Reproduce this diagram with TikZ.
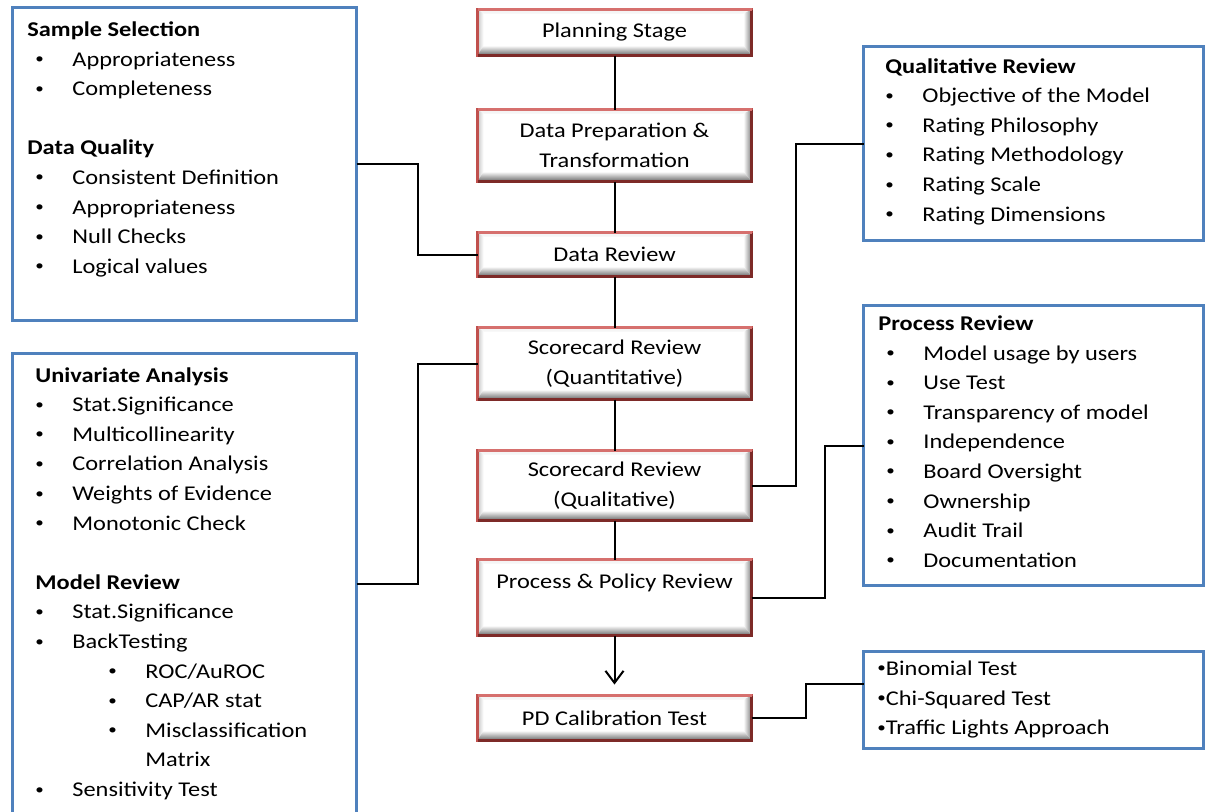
\documentclass[tikz,border=0pt]{standalone}
\usepackage{fontspec}
\setmainfont{Carlito}[FakeStretch=1.16]
\usetikzlibrary{arrows.meta}

\definecolor{stageRed}{RGB}{192,80,77}
\definecolor{stageDark}{RGB}{125,42,40}
\definecolor{stageTop}{RGB}{214,112,110}
\definecolor{boxBlue}{RGB}{79,129,189}

\newcommand\bbx{path picture bounding box}
\newcommand\bdot{\raisebox{0.12em}{\scalebox{0.7}{\textbullet}}}
\newcommand\bul[2][0pt]{\hspace*{#1}\makebox[18.5pt][l]{\bdot}#2\strut}

\begin{document}
\begin{tikzpicture}[x=0.5pt,y=-0.5pt,
  stage/.style={draw=stageRed, line width=1.5pt, fill=white, outer sep=0pt, inner sep=0pt,
    minimum width=137pt, align=center, font=\fontsize{10.5}{14.8}\selectfont,
    path picture={
      \fill[black!4] (\bbx.north west) -- (\bbx.north east) -- ([shift={(-4pt,-2pt)}]\bbx.north east) -- ([shift={(3pt,-2pt)}]\bbx.north west) -- cycle;
      \shade[left color=black!22, right color=white] (\bbx.north west) -- ([shift={(3pt,-2pt)}]\bbx.north west) -- ([shift={(3pt,5pt)}]\bbx.south west) -- (\bbx.south west) -- cycle;
      \shade[left color=white, right color=black!50] (\bbx.north east) -- ([shift={(-4pt,-2pt)}]\bbx.north east) -- ([shift={(-4pt,5pt)}]\bbx.south east) -- (\bbx.south east) -- cycle;
      \shade[top color=white, bottom color=black!60] (\bbx.south west) -- ([shift={(3pt,5pt)}]\bbx.south west) -- ([shift={(-4pt,5pt)}]\bbx.south east) -- (\bbx.south east) -- cycle;
    }},
  info/.style={draw=boxBlue, line width=1.5pt, fill=white, outer sep=0pt, inner sep=0pt},
  txt/.style={anchor=north west, inner sep=0pt, align=left, font=\fontsize{10.5}{14.8}\selectfont},
  link/.style={line width=1pt, black}]

\path[use as bounding box, fill=white] (0,0) rectangle (1206,811);
\clip (0,0) rectangle (1206,811);

% main stages
\node[stage, minimum height=23pt] (plan) at (614.5,32.5) {Planning Stage};
\node[stage, minimum height=36pt] (prep) at (614.5,145.5) {Data Preparation \&\\Transformation};
\node[stage, minimum height=22pt] (drev) at (614.5,254.5) {Data Review};
\node[stage, minimum height=36pt] (quant) at (614.5,363.5) {Scorecard Review\\(Quantitative)};
\node[stage, minimum height=35pt] (qual) at (614.5,485.5) {Scorecard Review\\(Qualitative)};
\node[stage, minimum height=38pt] (proc) at (614.5,597.5) {\strut Process \& Policy Review\\\strut};
\node[stage, minimum height=22.5pt] (pdcal) at (614.5,718) {PD Calibration Test};

\foreach \n in {plan,prep,drev,quant,qual,proc,pdcal} {
  \draw[stageDark, line width=1.5pt] (\n.north east) -- (\n.south east) -- (\n.south west);
  \draw[stageTop, line width=1.5pt] (\n.north west) -- (\n.north east);
}

% review boxes
\node[info, minimum width=172pt, minimum height=156.5pt] (sel) at (184.5,164) {};
\node[info, minimum width=172pt, minimum height=230.5pt] (mod) at (184.5,584) {};
\node[info, minimum width=170pt, minimum height=97pt] (qrev) at (1033.5,143.5) {};
\node[info, minimum width=170pt, minimum height=140pt] (prev) at (1033.5,445.5) {};
\node[info, minimum width=170pt, minimum height=48.5pt] (cal) at (1033.5,700) {};

\node[txt] (selText) at (27,15.3) {\textbf{Sample Selection}\strut\\
  \bul[4pt]{Appropriateness}\\ \bul[4pt]{Completeness}\\ \strut\\
  \textbf{Data Quality}\strut\\
  \bul[4pt]{Consistent Definition}\\ \bul[4pt]{Appropriateness}\\
  \bul[4pt]{Null Checks}\\ \bul[4pt]{Logical values}};

\node[txt] (modText) at (35,361) {\textbf{Univariate Analysis}\strut\\
  \bul{Stat.Significance}\\ \bul{Multicollinearity}\\ \bul{Correlation Analysis}\\
  \bul{Weights of Evidence}\\ \bul{Monotonic Check}\\ \strut\\
  \textbf{Model Review}\strut\\
  \bul{Stat.Significance}\\ \bul{BackTesting}\\
  \bul[36.5pt]{ROC/AuROC}\\ \bul[36.5pt]{CAP/AR stat}\\ \bul[36.5pt]{Misclassification}\\
  \hspace*{55pt}Matrix\strut\\
  \bul{Sensitivity Test}};

\node[txt] (qrevText) at (885,52) {\textbf{Qualitative Review}\strut\\
  \bul{Objective of the Model}\\ \bul{Rating Philosophy}\\ \bul{Rating Methodology}\\
  \bul{Rating Scale}\\ \bul{Rating Dimensions}};

\node[txt] (prevText) at (878,309.3) {\textbf{Process Review}\strut\\
  \bul[4pt]{Model usage by users}\\ \bul[4pt]{Use Test}\\ \bul[4pt]{Transparency of model}\\
  \bul[4pt]{Independence}\\ \bul[4pt]{Board Oversight}\\ \bul[4pt]{Ownership}\\
  \bul[4pt]{Audit Trail}\\ \bul[4pt]{Documentation}};

\node[txt] (calText) at (877,654.3) {\bdot Binomial Test\strut\\
  \bdot Chi-Squared Test\strut\\ \bdot Traffic Lights Approach\strut};

% connectors
\draw[link] (plan.south) -- (prep.north);
\draw[link] (prep.south) -- (drev.north);
\draw[link] (drev.south) -- (quant.north);
\draw[link] (quant.south) -- (qual.north);
\draw[link] (qual.south) -- (proc.north);
\draw[link, -{Straight Barb[length=6pt, width=9pt]}, shorten >=5.5pt] (proc.south) -- (pdcal.north);

\draw[link] (sel.east) -- ++(61,0) |- (drev.west);
\draw[link] (mod.east) -- ++(61,0) |- (quant.west);
\draw[link] (qual.east) -- ++(44.5,0) |- (qrev.west);
\draw[link] (proc.east) -- ++(73.5,0) |- (prev.west);
\draw[link] (pdcal.east) -- ++(54.5,0) |- ([yshift=8pt]cal.west);

\end{tikzpicture}
\end{document}
